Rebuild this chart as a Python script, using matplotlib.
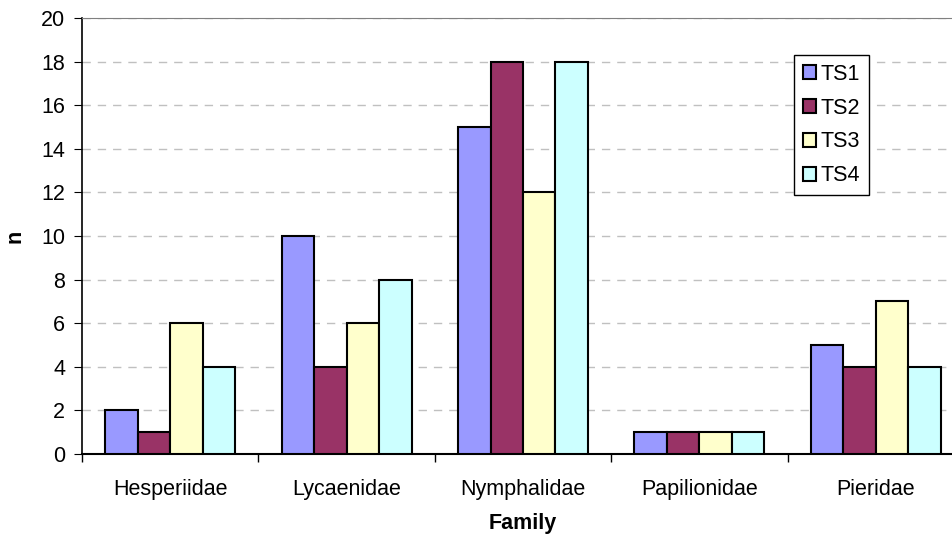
import numpy as np
import matplotlib.pyplot as plt

plt.rcParams['font.family'] = ['Liberation Sans', 'DejaVu Sans']

# data
families = ['Hesperiidae', 'Lycaenidae', 'Nymphalidae', 'Papilionidae', 'Pieridae']
ts1 = [2, 10, 15, 1, 5]
ts2 = [1, 4, 18, 1, 4]
ts3 = [6, 6, 12, 1, 7]
ts4 = [4, 8, 18, 1, 4]
series = ['TS1', 'TS2', 'TS3', 'TS4']
colors = ['#9999FF', '#993366', '#FFFFCC', '#CCFFFF']

fs = 15.5
fig = plt.figure(figsize=(9.53, 5.37), dpi=100)
ax = fig.add_axes([82 / 953, 1 - 454 / 537, (964 - 82) / 953, (454 - 18) / 537])

x = np.arange(len(families))
w = 0.184
for i, (vals, name) in enumerate(zip([ts1, ts2, ts3, ts4], series)):
    ax.bar(x + (i - 1.5) * w, vals, w, color=colors[i], edgecolor='black',
           linewidth=1.5, label=name, zorder=3)

ax.set_xlim(-0.5, len(families) - 0.5)
ax.set_ylim(0, 20)
ax.set_yticks(range(0, 21, 2))
ax.yaxis.grid(True, linestyle=(0, (6, 5)), color='#c0c0c0', linewidth=1, zorder=0)

ax.set_xticks(x)
ax.set_xticklabels(families)
ax.set_xticks(np.arange(-0.5, len(families), 1), minor=True)
ax.tick_params(axis='x', which='major', length=0, pad=18, labelsize=fs)
ax.tick_params(axis='x', which='minor', length=6, direction='out', width=1)
ax.tick_params(axis='y', length=6, direction='out', labelsize=fs, pad=6)

ax.spines['right'].set_visible(False)
ax.spines['top'].set_color('#808080')
ax.spines['left'].set_linewidth(1.2)
ax.spines['bottom'].set_linewidth(1.5)

ax.set_xlabel('Family', fontsize=fs, fontweight='bold', labelpad=9)
ax.set_ylabel('n', fontsize=fs, fontweight='bold', labelpad=11)

leg = ax.legend(loc='upper left', fancybox=False, framealpha=1,
                edgecolor='black', fontsize=fs, handlelength=0.6, handleheight=0.6,
                handletextpad=0.25, labelspacing=0.6, borderpad=0.4, borderaxespad=0)
leg.set_bbox_to_anchor(((794 - 82) / (964 - 82), 1 - (55 - 18) / 436), transform=ax.transAxes)
leg.get_frame().set_linewidth(1)

fig.savefig('out.png', dpi=100)
